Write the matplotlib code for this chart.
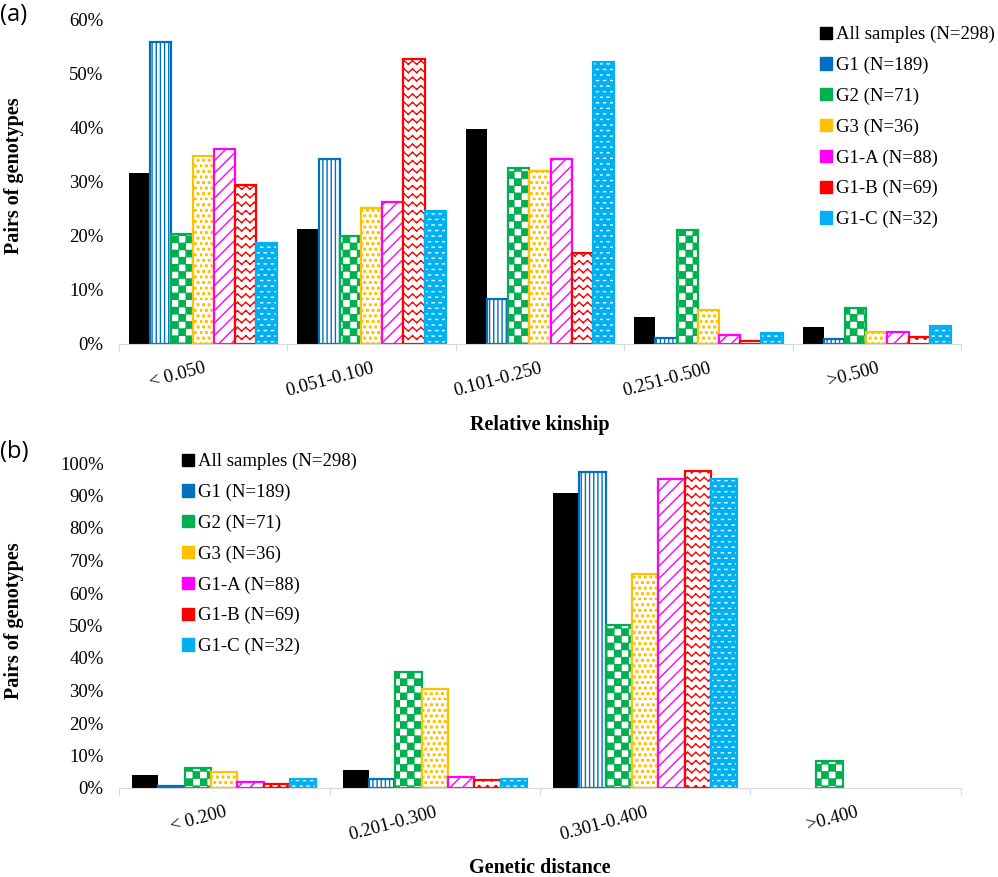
import warnings

import numpy as np
import matplotlib
matplotlib.use("Agg")
import matplotlib.pyplot as plt
import matplotlib.hatch as mhatch
from matplotlib.path import Path
from matplotlib.patches import Patch
from matplotlib.ticker import PercentFormatter

warnings.filterwarnings("ignore")

#===============================================================#
## data (percent of pairs)
series = ["All samples (N=298)", "G1 (N=189)", "G2 (N=71)", "G3 (N=36)",
          "G1-A (N=88)", "G1-B (N=69)", "G1-C (N=32)"]

kin_cats = ["< 0.050", "0.051-0.100", "0.101-0.250", "0.251-0.500", ">0.500"]
kin_all = [31.5, 21.2, 39.7, 5.0, 3.1]
kin_g1 = [55.8, 34.1, 8.4, 1.2, 1.0]
kin_g2 = [20.3, 19.9, 32.5, 21.0, 6.7]
kin_g3 = [34.7, 25.1, 32.0, 6.2, 2.3]
kin_g1a = [36.0, 26.2, 34.1, 1.6, 2.3]
kin_g1b = [29.3, 52.7, 16.8, 0.6, 1.3]
kin_g1c = [18.7, 24.5, 52.0, 2.1, 3.4]

dist_cats = ["< 0.200", "0.201-0.300", "0.301-0.400", ">0.400"]
dist_all = [4.0, 5.6, 90.9, 0.0]
dist_g1 = [0.7, 2.8, 97.1, 0.0]
dist_g2 = [6.3, 35.6, 50.2, 8.4]
dist_g3 = [4.8, 30.5, 65.8, 0.0]
dist_g1a = [1.9, 3.4, 95.1, 0.0]
dist_g1b = [1.1, 2.4, 97.5, 0.0]
dist_g1c = [2.8, 2.8, 95.1, 0.0]

colors = ["#000000", "#0070C0", "#00B050", "#FFC000", "#FF00FF", "#FF0000", "#00B0F0"]
hatches = [None, "||||", "c", "q", "a", "z", "d"]

#===============================================================#
## extra hatch patterns: checker (c), dots (q), diagonal (a), waves (z), dashes (d)
def squares(cells, size):
    sq = np.array([[0, 0], [size, 0], [size, size], [0, size], [0, 0]])
    v = np.concatenate([sq + c for c in cells])
    c = np.tile([Path.MOVETO, Path.LINETO, Path.LINETO, Path.LINETO, Path.CLOSEPOLY], len(cells))
    return v, c


class Checker(mhatch.HatchPatternBase):
    def __init__(self, hatch, density):
        self.n = hatch.count("c") * 14
        self.num_vertices = self.n * self.n // 2 * 5

    def set_vertices_and_codes(self, vertices, codes):
        s = 1.0 / self.n
        cells = [[i * s + 0.004, j * s + 0.004] for i in range(self.n) for j in range(self.n)
                 if (i + j) % 2 == 0]
        vertices[:], codes[:] = squares(cells, s - 0.008)


class Dots(mhatch.HatchPatternBase):
    def __init__(self, hatch, density):
        self.n = hatch.count("q") * 18
        self.num_vertices = self.n * self.n * 5

    def set_vertices_and_codes(self, vertices, codes):
        s = 1.0 / self.n
        cells = [[(i + 0.5 * (j % 2)) * s, j * s] for i in range(self.n) for j in range(self.n)]
        vertices[:], codes[:] = squares(cells, 0.016)


class Diagonal(mhatch.HatchPatternBase):
    def __init__(self, hatch, density):
        self.n = hatch.count("a") * 16
        self.num_vertices = (self.n + 1) * 2 if self.n else 0

    def set_vertices_and_codes(self, vertices, codes):
        steps = np.linspace(-0.5, 0.5, self.n + 1)
        vertices[0::2, 0] = 0.0 + steps
        vertices[0::2, 1] = 0.0 - steps
        vertices[1::2, 0] = 1.0 + steps
        vertices[1::2, 1] = 1.0 - steps
        codes[0::2] = Path.MOVETO
        codes[1::2] = Path.LINETO


class Waves(mhatch.HatchPatternBase):
    def __init__(self, hatch, density):
        self.n = hatch.count("z") * 12
        self.num_vertices = self.n * 2 * self.n * 2

    def set_vertices_and_codes(self, vertices, codes):
        parts = []
        k = np.arange(2 * self.n + 1)
        for r in range(self.n):
            y = (r + 0.5) / self.n + np.where(k % 2 == 0, -0.018, 0.018)
            pts = np.column_stack([k / (2 * self.n), y])
            for i in range(2 * self.n):
                parts.append(pts[i:i + 2])
        vertices[:] = np.concatenate(parts)
        codes[:] = np.tile([Path.MOVETO, Path.LINETO], len(parts))


class Dashes(mhatch.HatchPatternBase):
    def __init__(self, hatch, density):
        self.rows = hatch.count("d") * 18
        self.cols = hatch.count("d") * 14
        self.num_vertices = self.rows * self.cols * 2

    def set_vertices_and_codes(self, vertices, codes):
        parts = []
        for r in range(self.rows):
            shift = 0.5 / self.cols if r % 2 else 0
            for c in range(self.cols):
                x0 = c / self.cols + shift
                y0 = (r + 0.5) / self.rows
                parts.append(np.array([[x0, y0], [x0 + 0.02, y0]]))
        vertices[:] = np.concatenate(parts)
        codes[:] = np.tile([Path.MOVETO, Path.LINETO], len(parts))


mhatch._hatch_types += [Checker, Dots, Diagonal, Waves, Dashes]

#===============================================================#
plt.rcParams['font.family'] = 'Liberation Serif'
plt.rcParams['hatch.linewidth'] = 1.0

fig = plt.figure(figsize=(9.98, 8.77), dpi=100)
W, H = 998, 877
FS = 13.5


def draw_panel(ax, cats, data, width, ymax):
    x = np.arange(len(cats))
    for j, vals in enumerate(data):
        vals = np.array(vals) / 100
        pos = x + (j - 3) * width
        lw = np.where(vals > 0, 1.6, 0)
        if j == 0:
            ax.bar(pos, vals, width, color=colors[j], lw=0)
        elif j == 6:
            ax.bar(pos, vals, width, facecolor=colors[j], edgecolor="white", hatch=hatches[j], lw=0)
            ax.bar(pos, vals, width, fill=False, edgecolor=colors[j], lw=lw)
        else:
            ax.bar(pos, vals, width, facecolor="white", edgecolor=colors[j], hatch=hatches[j], lw=lw)

    ax.set_xlim(-0.5, len(cats) - 0.5)
    ax.set_ylim(0, ymax)
    ax.set_yticks(np.arange(0, ymax + 0.001, 0.1))
    ax.yaxis.set_major_formatter(PercentFormatter(1, decimals=0))
    for s in ["top", "right", "left"]:
        ax.spines[s].set_visible(False)
    ax.spines["bottom"].set_color("#d9d9d9")
    ax.tick_params(axis="y", length=0, pad=11, labelsize=FS)

    ax.set_xticks(np.arange(len(cats) + 1) - 0.5)
    ax.set_xticklabels([])
    ax.tick_params(axis="x", which="major", length=5, color="#d9d9d9")
    ax.set_xticks(x, cats, minor=True)
    ax.tick_params(axis="x", which="minor", length=0, pad=11.5, labelsize=FS)
    for lab in ax.get_xticklabels(minor=True):
        lab.set_rotation(15)
        lab.set_ha("right")
        lab.set_rotation_mode("anchor")


def add_legend(ax, x0, y0):
    handles = [Patch(facecolor=c, edgecolor=c) for c in colors]
    ax.legend(handles, series, loc="upper left", bbox_to_anchor=(x0 / W, 1 - y0 / H),
              bbox_transform=fig.transFigure, frameon=False, fontsize=FS,
              handlelength=0.62, handleheight=0.62, handletextpad=0.25,
              labelspacing=0.72, borderpad=0, borderaxespad=0)


## (a) relative kinship
ax1 = fig.add_axes([119 / W, 1 - 344 / H, 842 / W, 325 / H])
draw_panel(ax1, kin_cats, [kin_all, kin_g1, kin_g2, kin_g3, kin_g1a, kin_g1b, kin_g1c],
           0.126, 0.6)
add_legend(ax1, 820, 26)

## (b) genetic distance
ax2 = fig.add_axes([119 / W, 1 - 788 / H, 842 / W, 325 / H])
draw_panel(ax2, dist_cats, [dist_all, dist_g1, dist_g2, dist_g3, dist_g1a, dist_g1b, dist_g1c],
           0.125, 1.0)
add_legend(ax2, 182, 453)

fig.text(540 / W, 1 - 425 / H, "Relative kinship", ha="center", va="center",
         fontsize=14.5, fontweight="bold")
fig.text(540 / W, 1 - 868 / H, "Genetic distance", ha="center", va="center",
         fontsize=14.5, fontweight="bold")
for yc in [176, 621]:
    fig.text(14 / W, 1 - yc / H, "Pairs of genotypes", ha="center", va="center",
             rotation=90, fontsize=14.5, fontweight="bold")

fig.text(0, 1 - 15 / H, "(a)", ha="left", va="center", fontsize=17, family="Open Sans")
fig.text(0, 1 - 452 / H, "(b)", ha="left", va="center", fontsize=17, family="Open Sans")

fig.savefig("out.png", dpi=100)
